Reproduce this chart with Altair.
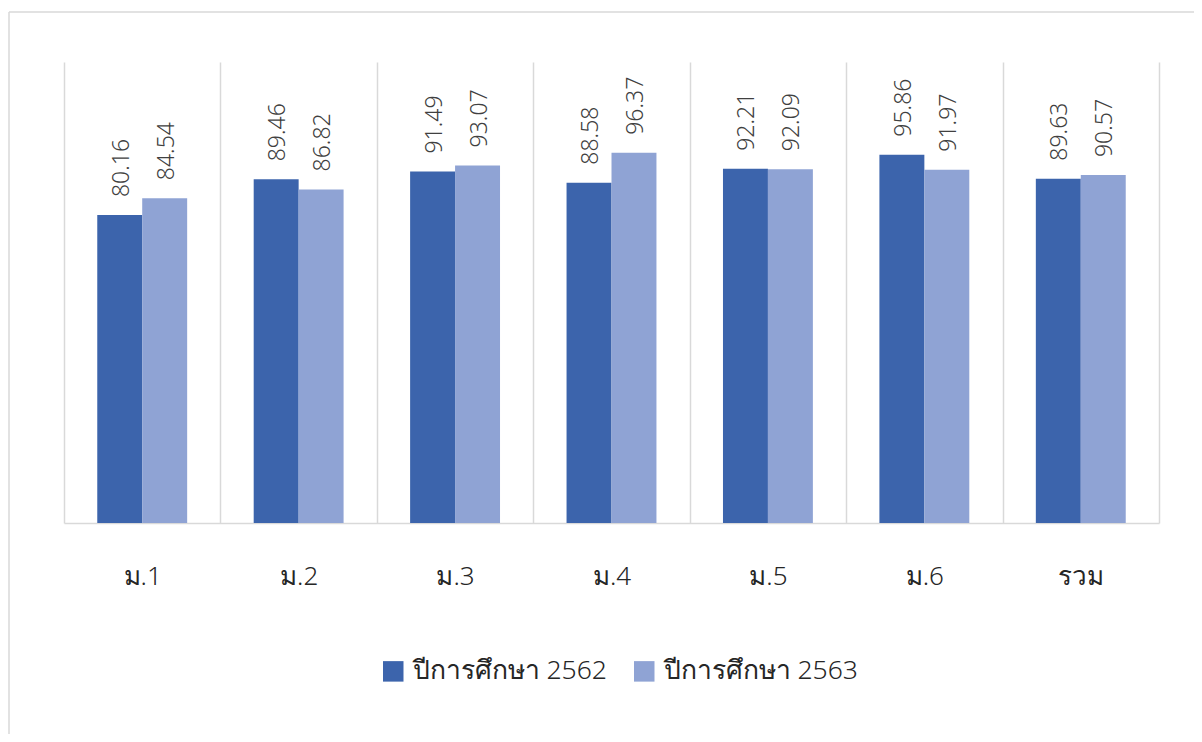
import altair as alt
import pandas as pd

categories = ["ม.1", "ม.2", "ม.3", "ม.4", "ม.5", "ม.6", "รวม"]
series_names = ["ปีการศึกษา 2562", "ปีการศึกษา 2563"]
values_2562 = [80.16, 89.46, 91.49, 88.58, 92.21, 95.86, 89.63]
values_2563 = [84.54, 86.82, 93.07, 96.37, 92.09, 91.97, 90.57]
colors = ["#3C64AC", "#8FA3D4"]

rows = []
for c, a, b in zip(categories, values_2562, values_2563):
    rows.append({"cat": c, "series": series_names[0], "value": a})
    rows.append({"cat": c, "series": series_names[1], "value": b})
df = pd.DataFrame(rows)

W, H = 1095, 461
FONT = "Noto Sans"

x = alt.X("cat:N", sort=categories, title=None,
          scale=alt.Scale(paddingInner=0, paddingOuter=0, round=False),
          axis=alt.Axis(labelAngle=0, labelFontSize=26, labelColor="#262626",
                        labelFontWeight=300,
                        labelPadding=40, ticks=False, grid=True, tickBand="extent",
                        gridColor="#d9d9d9", gridWidth=1.5,
                        domainColor="#d9d9d9", domainWidth=1.5, labelFont=FONT))
xoff = alt.XOffset("series:N", sort=series_names,
                   scale=alt.Scale(paddingInner=0, paddingOuter=0.74, round=False))
y = alt.Y("value:Q", scale=alt.Scale(domain=[0, 120]), axis=None)

base = alt.Chart(df)

bars = base.mark_bar().encode(
    x=x, xOffset=xoff, y=y,
    color=alt.Color("series:N", sort=series_names,
                    scale=alt.Scale(domain=series_names, range=colors),
                    legend=alt.Legend(title=None, orient="none", direction="horizontal",
                                      legendX=316, legendY=596,
                                      symbolType="square", symbolSize=420,
                                      symbolStrokeWidth=0, labelLimit=0,
                                      labelFontSize=26.5, labelColor="#262626",
                                      labelFontWeight=300,
                                      labelFont=FONT, columnPadding=24,
                                      symbolOffset=0, labelOffset=6)),
)

labels = base.mark_text(angle=270, align="left", baseline="middle", dx=18, dy=2,
                        fontSize=23, fontWeight=300, color="#404040", font=FONT).encode(
    x=x, xOffset=xoff, y=y,
    text=alt.Text("value:Q", format=".2f"),
)

one = alt.Data(values=[{"k": 1}])
border_left = alt.Chart(one).mark_rule(color="#d9d9d9", strokeWidth=1.5).encode(
    x=alt.value(-55), y=alt.value(-50), y2=alt.value(720))
border_top = alt.Chart(one).mark_rule(color="#d9d9d9", strokeWidth=1.5).encode(
    x=alt.value(-55), x2=alt.value(1200), y=alt.value(-50))

chart = alt.layer(bars, labels, border_left, border_top).properties(
    width=W, height=H,
    autosize=alt.AutoSizeParams(type="none"),
    padding={"left": 56, "top": 54, "right": 35, "bottom": 211},
).configure_view(stroke=None)

chart.save("out.html", embed_options={"renderer": "svg", "actions": False})
